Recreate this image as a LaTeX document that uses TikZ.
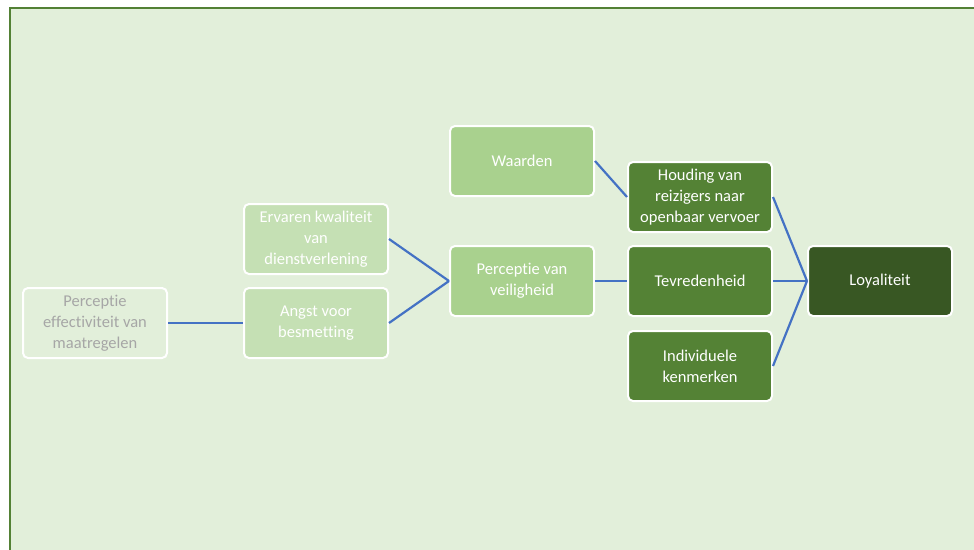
\documentclass[tikz,border=0pt]{standalone}
\usepackage{fontspec}
\setmainfont[Ligatures=CommonOff]{Carlito}
\usetikzlibrary{positioning}
\definecolor{bgGreen}{HTML}{E2EFDA}
\definecolor{frameGreen}{HTML}{538135}
\definecolor{lightBox}{HTML}{C5E0B4}
\definecolor{midBox}{HTML}{A9D18E}
\definecolor{darkBox}{HTML}{548235}
\definecolor{deepBox}{HTML}{385723}
\definecolor{lineBlue}{HTML}{4472C4}
\definecolor{fadeText}{HTML}{A6A6A6}

\begin{document}
\begin{tikzpicture}[
    x=1pt, y=-1pt,
    box/.style={draw=white, line width=2pt, rounded corners=5pt,
        minimum width=144pt, minimum height=70pt, align=center,
        text=white, font=\fontsize{16.5}{21}\selectfont},
    faded/.style={box, fill=bgGreen, text=fadeText},
    pale/.style={box, fill=lightBox},
    mid/.style={box, fill=midBox},
    dark/.style={box, fill=darkBox},
    deep/.style={box, fill=deepBox},
    link/.style={draw=lineBlue, line width=2.2pt}]

    % canvas
    \useasboundingbox (0,0) rectangle (974,549);
    \begin{scope}
        \clip (0,0) rectangle (974,549);
        \draw[fill=bgGreen, draw=frameGreen, line width=1.8pt] (10,8) rectangle (990,570);
    \end{scope}

    % boxes
    \node[faded] (eff)   at (95,323)  {Perceptie\\effectiviteit van\\maatregelen};
    \node[pale]  (angst) at (316,323) {Angst voor\\besmetting};
    \node[pale]  (kwal)  at (316,239) {Ervaren kwaliteit\\van\\dienstverlening};
    \node[mid]   (veil)  at (522,281) {Perceptie van\\veiligheid};
    \node[mid]   (waard) at (522,161) {Waarden};
    \node[dark]  (houd)  at (700,197) {Houding van\\reizigers naar\\openbaar vervoer};
    \node[dark]  (tevr)  at (700,281) {Tevredenheid};
    \node[dark]  (indiv) at (700,366) {Individuele\\kenmerken};
    \node[deep]  (loyal) at (880,281) {Loyaliteit};

    % links
    \draw[link] (eff.east) -- (angst.west);
    \draw[link] (kwal.east) -- (veil.west);
    \draw[link] (angst.east) -- (veil.west);
    \draw[link] (waard.east) -- (houd.west);
    \draw[link] (veil.east) -- (tevr.west);
    \draw[link] (houd.east) -- (loyal.west);
    \draw[link] (tevr.east) -- (loyal.west);
    \draw[link] (indiv.east) -- (loyal.west);

\end{tikzpicture}
\end{document}
